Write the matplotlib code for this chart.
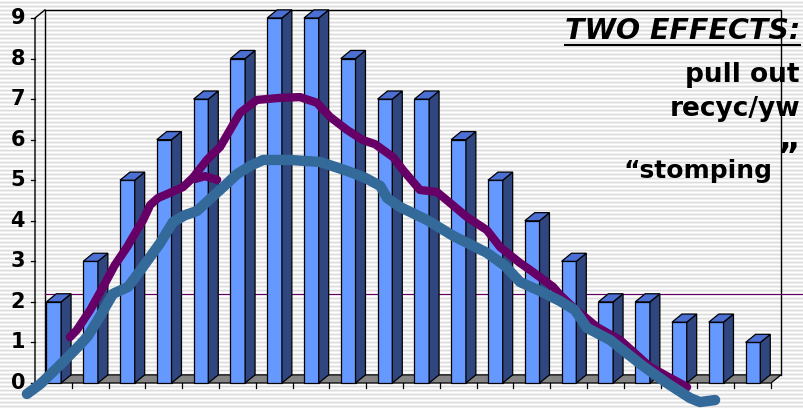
import numpy as np
import matplotlib
matplotlib.use("Agg")
import matplotlib.pyplot as plt
from matplotlib.patches import Polygon
from matplotlib.lines import Line2D

# Bar heights, one per category
values = [2, 3, 5, 6, 7, 8, 9, 9, 8, 7, 7, 6, 5, 4, 3, 2, 2, 1.5, 1.5, 1]
y_ticks = list(range(10))

# Hand-drawn overlay curves (x in category units, y in value units)
blue_x = [-0.22, 0.14, 0.54, 0.95, 1.22, 1.44, 1.77, 2.12, 2.34, 2.53, 2.85, 3.40,
          3.75, 4.08, 4.40, 4.76, 5.11, 5.49, 5.84, 6.20, 6.93, 7.75, 8.48, 8.97,
          9.38, 9.57, 9.92, 10.65, 11.36, 12.28, 12.77, 13.18, 13.72, 14.27, 14.67,
          15.00, 15.63, 16.52, 17.17, 17.80, 18.07, 18.48]
blue_y = [-0.27, -0.03, 0.32, 0.69, 0.94, 1.16, 1.65, 2.20, 2.29, 2.37, 2.76, 3.45,
          3.97, 4.14, 4.24, 4.54, 4.83, 5.15, 5.35, 5.50, 5.50, 5.45, 5.23, 5.06,
          4.86, 4.56, 4.34, 4.02, 3.63, 3.21, 2.89, 2.49, 2.27, 2.02, 1.80,
          1.36, 1.06, 0.42, 0.00, -0.37, -0.47, -0.42]

purple_x = [0.95, 1.14, 1.50, 1.85, 2.17, 2.50, 2.77, 2.94, 3.13, 3.34, 3.67, 4.02,
            4.29, 4.67, 5.03, 5.30, 5.57, 6.03, 6.66, 7.20, 7.66, 8.02, 8.48, 8.91,
            9.24, 9.73, 10.00, 10.46, 10.92, 11.28, 11.74, 12.28, 12.64, 13.18, 13.45,
            14.08, 14.27, 14.62, 15.27, 15.90, 16.71, 17.72]
purple_y = [1.13, 1.31, 1.80, 2.37, 2.91, 3.35, 3.77, 4.02, 4.39, 4.56, 4.69, 4.83,
            5.06, 5.50, 5.82, 6.24, 6.66, 6.98, 7.03, 7.05, 6.91, 6.56, 6.24, 5.99,
            5.89, 5.57, 5.25, 4.76, 4.71, 4.44, 4.09, 3.77, 3.35, 2.96, 2.79,
            2.37, 2.17, 1.87, 1.38, 1.06, 0.40, -0.10]
tail_x = [4.35, 4.62, 4.95]
tail_y = [5.03, 5.10, 5.01]

W, H = 804, 408
fig = plt.figure(figsize=(W / 100, H / 100), dpi=100)

# striped slide background
rows = np.array([1.0, 0.95, 0.87, 0.94])
col = np.tile(rows, H // 4 + 1)[:H]
bg = np.repeat(col[:, None], W, axis=1)
fig.figimage(np.dstack([bg, bg, bg]), 0, 0, zorder=-1)

ax = fig.add_axes([35 / W, (H - 383) / H, 736 / W, 365 / H])
ax.set_zorder(1)
ax.set_xlim(0, 20)
ax.set_ylim(0, 9)
ax.axis("off")
ax.patch.set_alpha(0)

n = len(values)
dx, dy = 0.27, 0.2
ymax = 9
front_c, side_c, top_c = "#6699FF", "#30467F", "#4B6FD3"
edge = dict(edgecolor="black", linewidth=0.9, clip_on=False)

# walls and floor
ax.add_patch(Polygon([(0, 0), (n, 0), (n + dx, dy), (dx, dy)],
                     facecolor="#858585", zorder=2, **edge))
for xs, ys in [([dx, dx, n + dx, n + dx], [dy, ymax + dy, ymax + dy, dy]),
               ([0, 0, dx], [0, ymax, ymax + dy])]:
    ax.add_line(Line2D(xs, ys, color="black", lw=1.0, clip_on=False, zorder=2))

# thin marker line at 2 on the back wall
ax.add_line(Line2D([dx, (W - 35) / 36.8], [2 + dy, 2 + dy], color="#660066",
                   lw=0.8, clip_on=False, zorder=2))

# 3D bars
for i, v in enumerate(values):
    x0, x1 = i + 0.31, i + 0.71
    ax.add_patch(Polygon([(x0, 0), (x1, 0), (x1, v), (x0, v)],
                         facecolor=front_c, zorder=3, **edge))
    ax.add_patch(Polygon([(x1, 0), (x1 + dx, dy), (x1 + dx, v + dy), (x1, v)],
                         facecolor=side_c, zorder=3, **edge))
    ax.add_patch(Polygon([(x0, v), (x1, v), (x1 + dx, v + dy), (x0 + dx, v + dy)],
                         facecolor=top_c, zorder=3, **edge))

# axis ticks and labels
for k in range(n + 1):
    ax.add_line(Line2D([k, k], [0, -0.13], color="black", lw=0.9, clip_on=False))
for t in y_ticks:
    ax.add_line(Line2D([-0.11, 0], [t, t], color="black", lw=0.9, clip_on=False))
    ax.text(-0.27, t, str(t), ha="right", va="center", fontsize=15,
            fontweight="bold", color="black")

# overlay strokes
ax.plot(purple_x, purple_y, color="#660066", lw=6, solid_capstyle="round",
        solid_joinstyle="round", clip_on=False, zorder=5)
ax.plot(tail_x, tail_y, color="#660066", lw=6, solid_capstyle="round",
        clip_on=False, zorder=5)
ax.plot(blue_x, blue_y, color="#336A9A", lw=7.5, solid_capstyle="round",
        solid_joinstyle="round", clip_on=False, zorder=6)

# annotation text
def fy(py):
    return 1 - py / H

title = fig.text(800 / W, fy(39), "TWO EFFECTS:", ha="right", va="baseline",
                 fontsize=20.5, fontweight="bold", fontstyle="italic", zorder=3)
fig.text(800 / W, fy(82), "pull out", ha="right", va="baseline",
         fontsize=19, fontweight="bold", zorder=3)
fig.text(800 / W, fy(116), "recyc/yw", ha="right", va="baseline",
         fontsize=19, fontweight="bold", zorder=3)
fig.text(772 / W, fy(178), "\u201cstomping", ha="right", va="baseline",
         fontsize=18, fontweight="bold", zorder=3)
fig.text(778 / W, fy(141), "\u201d", ha="left", va="top",
         fontsize=24, fontweight="bold", zorder=3)

fig.canvas.draw()
bb = title.get_window_extent()
fig.add_artist(Line2D([bb.x0 / W, bb.x1 / W], [fy(45), fy(45)],
                      transform=fig.transFigure, color="black", lw=1.5, zorder=3))

fig.savefig("out.png", dpi=100)
